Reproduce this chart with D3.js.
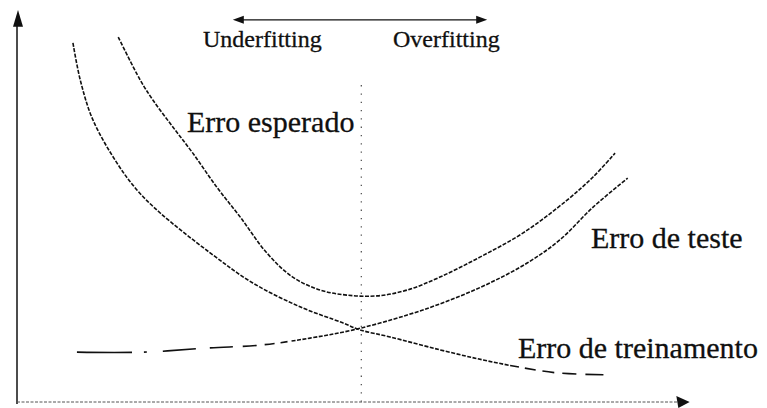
<!DOCTYPE html>
<html>
<head>
<meta charset="utf-8">
<script src="https://cdn.jsdelivr.net/npm/d3@7"></script>
<style>
  body { margin: 0; background: #fff; }
  svg { display: block; }
</style>
</head>
<body>
<div id="chart"></div>
<script>
// complexity (x) / error (y)
const esperado_x = [1.52, 1.85, 2.04, 2.34, 2.64, 3.00, 3.35, 3.75, 4.14, 4.55, 4.95, 5.41, 5.86, 6.35, 6.95, 7.60, 8.26, 8.65, 8.98];
const esperado_y = [9.36, 8.26, 7.75, 7.06, 6.39, 5.52, 4.76, 3.84, 3.22, 2.89, 2.76, 2.74, 2.89, 3.22, 3.73, 4.35, 5.19, 5.78, 6.39];

const treino_x = [0.84, 0.95, 1.14, 1.50, 1.80, 2.15, 2.90, 3.54, 4.25, 4.89, 5.15, 5.60, 6.35, 7.00, 7.60, 8.11, 8.83];
const treino_y = [9.21, 8.26, 7.24, 6.14, 5.45, 4.86, 3.84, 3.07, 2.46, 2.05, 1.87, 1.69, 1.36, 1.10, 0.90, 0.77, 0.72];

const teste_x = [0.90, 1.89, 2.90, 3.65, 4.40, 5.05, 5.86, 6.50, 7.10, 7.66, 8.15, 8.65, 9.17];
const teste_y = [1.30, 1.30, 1.41, 1.48, 1.66, 1.87, 2.25, 2.63, 3.07, 3.58, 4.17, 5.01, 5.75];

const divisao_x = 5.17;      // the dotted vertical line
const divisao_topo = 8.13;
const faixa_x = [3.24, 7.06]; // underfitting <-> overfitting arrow
const faixa_y = 9.80;

const rotulos_topo = ["Underfitting", "Overfitting"];
const rotulos_curvas = ["Erro esperado", "Erro de teste", "Erro de treinamento"];

const W = 767, H = 408;
const x = d3.scaleLinear().domain([0, 10]).range([17, 683]);
const y = d3.scaleLinear().domain([0, 10]).range([403, 12]);

const svg = d3.select("#chart").append("svg")
    .attr("width", W)
    .attr("height", H);

const ink = "#101010";

// axes
svg.append("line")
    .attr("x1", x(0)).attr("x2", x(0))
    .attr("y1", y(0) + 1).attr("y2", y(9.7))
    .attr("stroke", ink).attr("stroke-width", 1.5);
svg.append("path")
    .attr("d", `M${x(0) + 1},${y(10) - 2} L${x(0) - 4},${y(9.62)} L${x(0) + 6},${y(9.62)} Z`)
    .attr("fill", ink);

svg.append("line")
    .attr("x1", x(0)).attr("x2", x(9.96))
    .attr("y1", y(0) - 1).attr("y2", y(0) - 1)
    .attr("stroke", "#555").attr("stroke-width", 1)
    .attr("stroke-dasharray", "3,1.5");
svg.append("path")
    .attr("d", `M${x(10.1)},${y(0) - 1} L${x(9.9)},${y(0) - 7} L${x(9.93)},${y(0) + 5} Z`)
    .attr("fill", ink);

// dotted divider
svg.append("line")
    .attr("x1", x(divisao_x)).attr("x2", x(divisao_x))
    .attr("y1", y(divisao_topo)).attr("y2", y(0))
    .attr("stroke", "#555").attr("stroke-width", 1.3)
    .attr("stroke-dasharray", "1.3,7");

// underfitting / overfitting arrow
const fy = y(faixa_y);
svg.append("line")
    .attr("x1", x(faixa_x[0]) + 4).attr("x2", x(faixa_x[1]) - 4)
    .attr("y1", fy).attr("y2", fy)
    .attr("stroke", ink).attr("stroke-width", 1.2);
svg.append("path")
    .attr("d", `M${x(faixa_x[0])},${fy} L${x(faixa_x[0]) + 11},${fy - 4} L${x(faixa_x[0]) + 11},${fy + 4} Z`)
    .attr("fill", ink);
svg.append("path")
    .attr("d", `M${x(faixa_x[1])},${fy} L${x(faixa_x[1]) - 11},${fy - 4} L${x(faixa_x[1]) - 11},${fy + 4} Z`)
    .attr("fill", ink);

// curves
const line = d3.line()
    .x(d => x(d[0]))
    .y(d => y(d[1]))
    .curve(d3.curveCatmullRom.alpha(0.5));

function dashes(len, head, body, tail) {
    const out = head.slice();
    const tailLen = d3.sum(tail);
    let used = d3.sum(out);
    let i = 0;
    while (used < len - tailLen) {
        out.push(body[i % body.length]);
        used += body[i % body.length];
        i++;
    }
    if (out.length % 2 === 1) { out.push(body[1]); }
    return out.concat(tail, [len]).join(",");
}

function curve(xs, ys, head, body, tail) {
    const p = svg.append("path")
        .datum(xs.map((v, i) => [v, ys[i]]))
        .attr("fill", "none")
        .attr("stroke", ink)
        .attr("stroke-width", 1.6)
        .attr("d", line);
    const len = p.node().getTotalLength();
    p.attr("stroke-dasharray", dashes(len, head, body, tail));
}

curve(esperado_x, esperado_y, [], [4, 1.5], []);
curve(treino_x, treino_y, [], [4, 1.5], [9, 6, 11, 7, 12, 8, 14, 9, 18, 4]);
curve(teste_x, teste_y, [55, 12, 3, 16, 33, 14, 23, 10, 14, 8, 10, 6, 7, 4], [4, 1.5], []);

// labels
const font = "'Liberation Serif', 'Times New Roman', serif";
const topo_pos = [[203, 47], [393, 47]];
svg.selectAll(".topo").data(rotulos_topo).join("text")
    .attr("x", (d, i) => topo_pos[i][0])
    .attr("y", (d, i) => topo_pos[i][1])
    .attr("font-family", font)
    .attr("font-size", 24)
    .attr("fill", ink)
    .attr("stroke", ink)
    .attr("stroke-width", 0.3)
    .text(d => d);

const curva_pos = [[187, 132], [591, 248], [518, 358]];
svg.selectAll(".curva").data(rotulos_curvas).join("text")
    .attr("x", (d, i) => curva_pos[i][0])
    .attr("y", (d, i) => curva_pos[i][1])
    .attr("font-family", font)
    .attr("font-size", 30)
    .attr("fill", ink)
    .attr("stroke", ink)
    .attr("stroke-width", 0.3)
    .text(d => d);
</script>
</body>
</html>
